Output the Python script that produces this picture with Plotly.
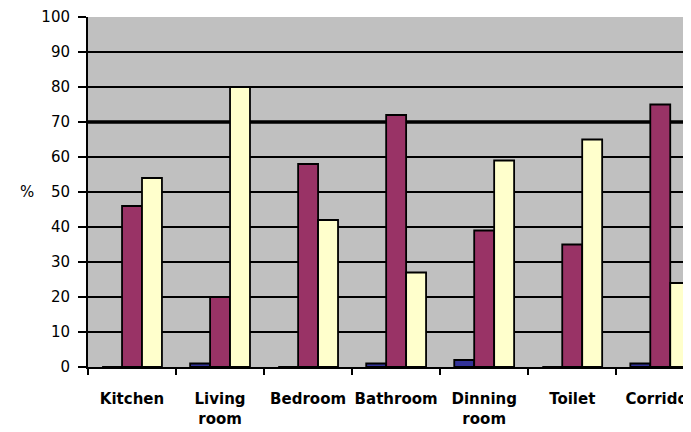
import plotly.graph_objects as go

categories = ["Kitchen", "Living<br>room", "Bedroom", "Bathroom", "Dinning<br>room", "Toilet", "Corridor"]
series_a = [0, 1, 0, 1, 2, 0, 1]          # navy
series_b = [46, 20, 58, 72, 39, 35, 75]   # maroon
series_c = [54, 80, 42, 27, 59, 65, 24]   # light yellow
y_ticks = [0, 10, 20, 30, 40, 50, 60, 70, 80, 90, 100]

fig = go.Figure()
for vals, col in [(series_a, "#333399"), (series_b, "#993366"), (series_c, "#FFFFCC")]:
    fig.add_trace(go.Bar(x=categories, y=vals, marker=dict(color=col, line=dict(color="black", width=1.8)),
                         showlegend=False))

fig.add_shape(type="line", xref="paper", yref="y", x0=0, x1=1, y0=70, y1=70,
              line=dict(color="black", width=3.5), layer="below")

fig.update_layout(
    width=691, height=432,
    margin=dict(l=80, r=0, t=9, b=73),
    paper_bgcolor="white", plot_bgcolor="#C0C0C0",
    barmode="group", bargap=0.32, bargroupgap=0,
    font=dict(family="DejaVu Sans", color="black"),
    xaxis=dict(range=[-0.5, 6.44], automargin=False, tickson="boundaries", ticks="outside",
               ticklen=6, tickwidth=2, tickcolor="black", showline=True, linecolor="black",
               linewidth=2, showgrid=False, ticklabelstandoff=17, ticklabeloverflow="allow",
               tickfont=dict(size=15, family="DejaVu Sans", weight="bold"), tickangle=0),
    yaxis=dict(range=[0, 100], automargin=False, tickvals=y_ticks, ticks="outside", ticklen=8,
               tickwidth=2, tickcolor="black", showline=True, linecolor="black", linewidth=2,
               showgrid=True, gridcolor="black", gridwidth=2, zeroline=False, ticklabelstandoff=5,
               ticklabeloverflow="allow",
               tickfont=dict(size=15, family="DejaVu Sans")),
    annotations=[dict(text="%", xref="paper", yref="paper", x=-0.1146, y=0.5, xanchor="left",
                      showarrow=False, font=dict(size=15, family="DejaVu Sans"))],
)

fig.write_html("out.html")
